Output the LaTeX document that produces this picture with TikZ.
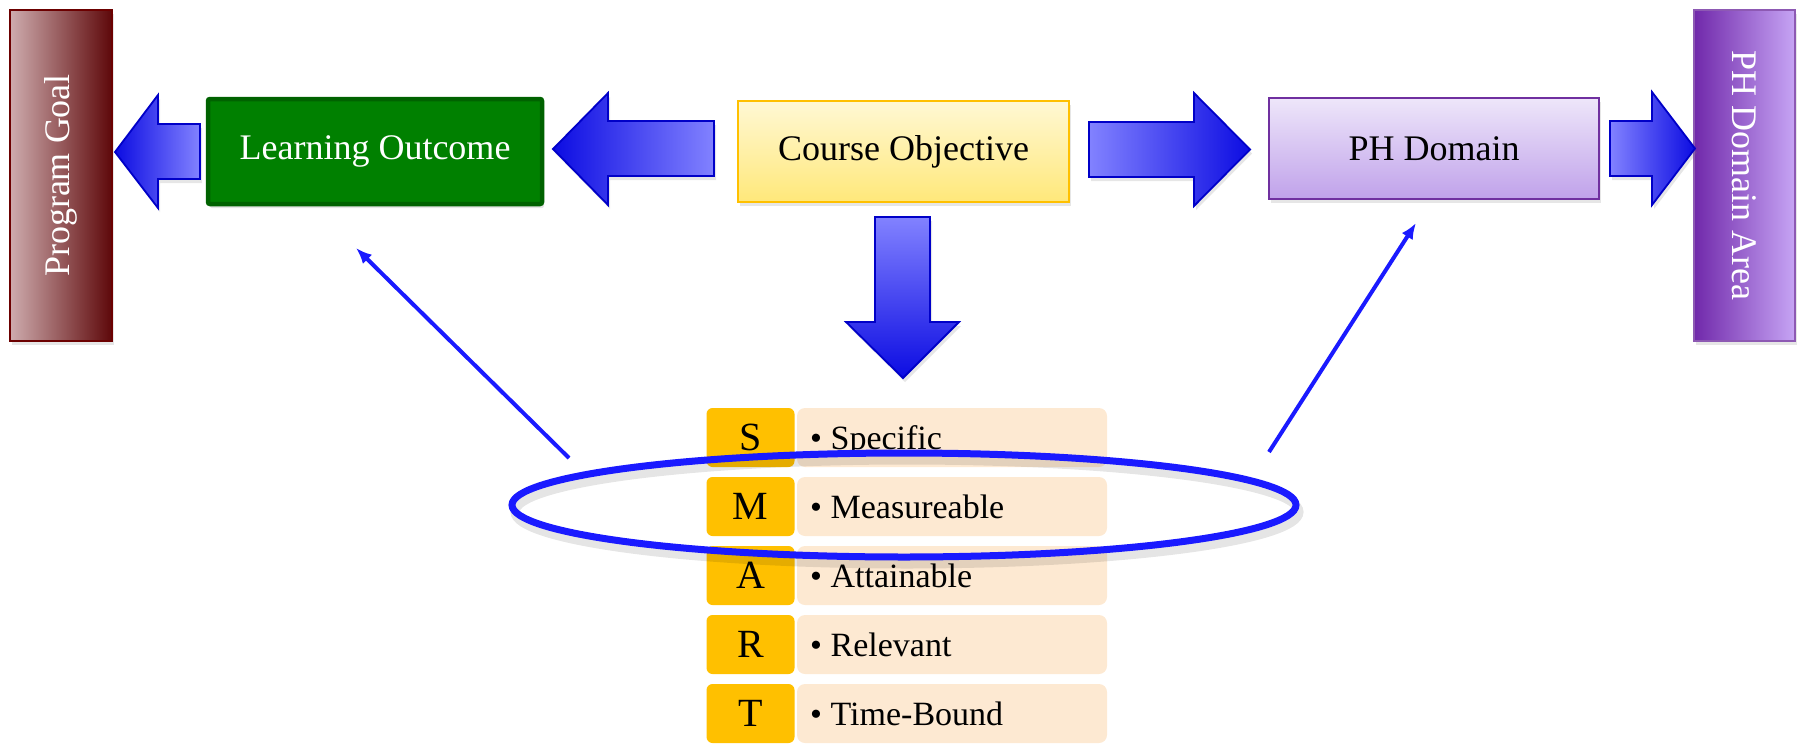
\documentclass[tikz,border=0pt]{standalone}
\usepackage{fontspec}
\setmainfont{Liberation Serif}
\usetikzlibrary{arrows.meta,shadows}

\definecolor{goaldark}{RGB}{94,8,10}
\definecolor{goalmid}{RGB}{172,134,136}
\definecolor{goallight}{RGB}{206,172,174}
\definecolor{goalline}{RGB}{108,0,0}
\definecolor{outcomefill}{RGB}{0,128,0}
\definecolor{outcomeline}{RGB}{0,98,0}
\definecolor{objtop}{RGB}{255,248,212}
\definecolor{objbottom}{RGB}{255,232,122}
\definecolor{objline}{RGB}{255,192,0}
\definecolor{domtop}{RGB}{238,230,250}
\definecolor{dombottom}{RGB}{192,162,234}
\definecolor{domline}{RGB}{112,48,160}
\definecolor{areadark}{RGB}{112,40,170}
\definecolor{areamid}{RGB}{160,110,214}
\definecolor{arealight}{RGB}{198,164,244}
\definecolor{flowdark}{RGB}{12,12,226}
\definecolor{flowlight}{RGB}{130,130,255}
\definecolor{flowline}{RGB}{0,0,200}
\definecolor{linkblue}{RGB}{26,26,255}
\definecolor{smartgold}{RGB}{255,192,0}
\definecolor{smartpeach}{RGB}{253,233,210}

\tikzset{
  softshadow/.style={drop shadow={shadow xshift=2pt, shadow yshift=-4pt, opacity=0.2}},
  box/.style={rectangle, inner sep=0pt, font=\fontsize{36pt}{40pt}\selectfont},
  flow/.style={draw=flowline, line width=1.8pt, line join=miter, softshadow},
  link/.style={draw=linkblue, line width=4pt, -{Latex[length=16pt,width=13pt]}},
  letterbox/.style={rectangle, rounded corners=6pt, fill=smartgold, minimum width=88pt,
    minimum height=59pt, inner sep=0pt, font=\fontsize{40pt}{44pt}\selectfont},
  wordbox/.style={rectangle, rounded corners=8pt, fill=smartpeach, minimum width=310pt,
    minimum height=59pt, inner sep=0pt},
  word/.style={anchor=base west, inner sep=0pt, font=\fontsize{34pt}{40pt}\selectfont},
}

\begin{document}
\begin{tikzpicture}[x=1pt,y=-1pt]
  \useasboundingbox (0,0) rectangle (1807,744);
  % Side columns, text turned on its side.
  \node[box, minimum width=102pt, minimum height=331pt, left color=goallight, middle color=goalmid,
    right color=goaldark, draw=goalline, line width=2pt, softshadow] (goal) at (61,175.5) {};
  \node[box, rotate=90, text=white] (goaltext) at (goal) {Program Goal};
  \node[box, minimum width=101pt, minimum height=331pt, left color=areadark, middle color=areamid,
    right color=arealight, draw=domline!80, line width=2pt, softshadow] (area) at (1744,175.5) {};
  \node[box, rotate=-90, text=white] (areatext) at (area) {PH Domain Area};
  % Top row of boxes.
  \node[box, minimum width=334pt, minimum height=105pt, fill=outcomefill, draw=outcomeline,
    line width=4.5pt, rounded corners=2pt, text=white, softshadow] (outcome) at (375,151.5) {Learning Outcome};
  \node[box, minimum width=331pt, minimum height=101pt, top color=objtop, bottom color=objbottom,
    draw=objline, line width=2.5pt, softshadow] (objective) at (903.5,151.5) {Course Objective};
  \node[box, minimum width=330pt, minimum height=101pt, top color=domtop, bottom color=dombottom,
    draw=domline, line width=2.5pt, softshadow] (domain) at (1434,148.5) {PH Domain};
  % Block arrows.
  \shadedraw[flow, left color=flowdark, right color=flowlight]
    (115,152) -- (158,95) -- (158,124) -- (200,124) -- (200,179) -- (158,179) -- (158,208) -- cycle;
  \shadedraw[flow, left color=flowdark, right color=flowlight]
    (553,149) -- (608,93) -- (608,121) -- (714,121) -- (714,176) -- (608,176) -- (608,205) -- cycle;
  \shadedraw[flow, left color=flowlight, right color=flowdark]
    (1089,122) -- (1194,122) -- (1194,93) -- (1250,149.5) -- (1194,206) -- (1194,177) -- (1089,177) -- cycle;
  \shadedraw[flow, left color=flowlight, right color=flowdark]
    (1610,121) -- (1652,121) -- (1652,92) -- (1695,148.5) -- (1652,205) -- (1652,176) -- (1610,176) -- cycle;
  \shadedraw[flow, top color=flowlight, bottom color=flowdark]
    (875,217) -- (930,217) -- (930,322) -- (959,322) -- (903,378) -- (846,322) -- (875,322) -- cycle;
  % SMART list.
  \node[letterbox] (letS) at (750.5,437.5) {S};
  \node[wordbox] (rowS) at (952,437.5) {};
  \node[word] (wordS) at (810,449) {• Specific};
  \node[letterbox] (letM) at (750.5,506.5) {M};
  \node[wordbox] (rowM) at (952,506.5) {};
  \node[word] (wordM) at (810,518) {• Measureable};
  \node[letterbox] (letA) at (750.5,575.5) {A};
  \node[wordbox] (rowA) at (952,575.5) {};
  \node[word] (wordA) at (810,587) {• Attainable};
  \node[letterbox] (letR) at (750.5,644.5) {R};
  \node[wordbox] (rowR) at (952,644.5) {};
  \node[word] (wordR) at (810,656) {• Relevant};
  \node[letterbox] (letT) at (750.5,713.5) {T};
  \node[wordbox] (rowT) at (952,713.5) {};
  \node[word] (wordT) at (810,725) {• Time-Bound};
  % Ring round the M row, with its shadow.
  \draw[line width=9pt, black, opacity=0.1] (907,512) ellipse [x radius=392pt, y radius=52pt];
  \draw[line width=7pt, linkblue] (904,505) ellipse [x radius=392pt, y radius=52pt];
  % Thin arrows up from the ring.
  \coordinate (outtail) at (569,458);
  \coordinate (outhead) at (356,248);
  \coordinate (domtail) at (1269,452);
  \coordinate (domhead) at (1416,223);
  \draw[link] (outtail) -- (outhead);
  \draw[link] (domtail) -- (domhead);
\end{tikzpicture}
\end{document}
